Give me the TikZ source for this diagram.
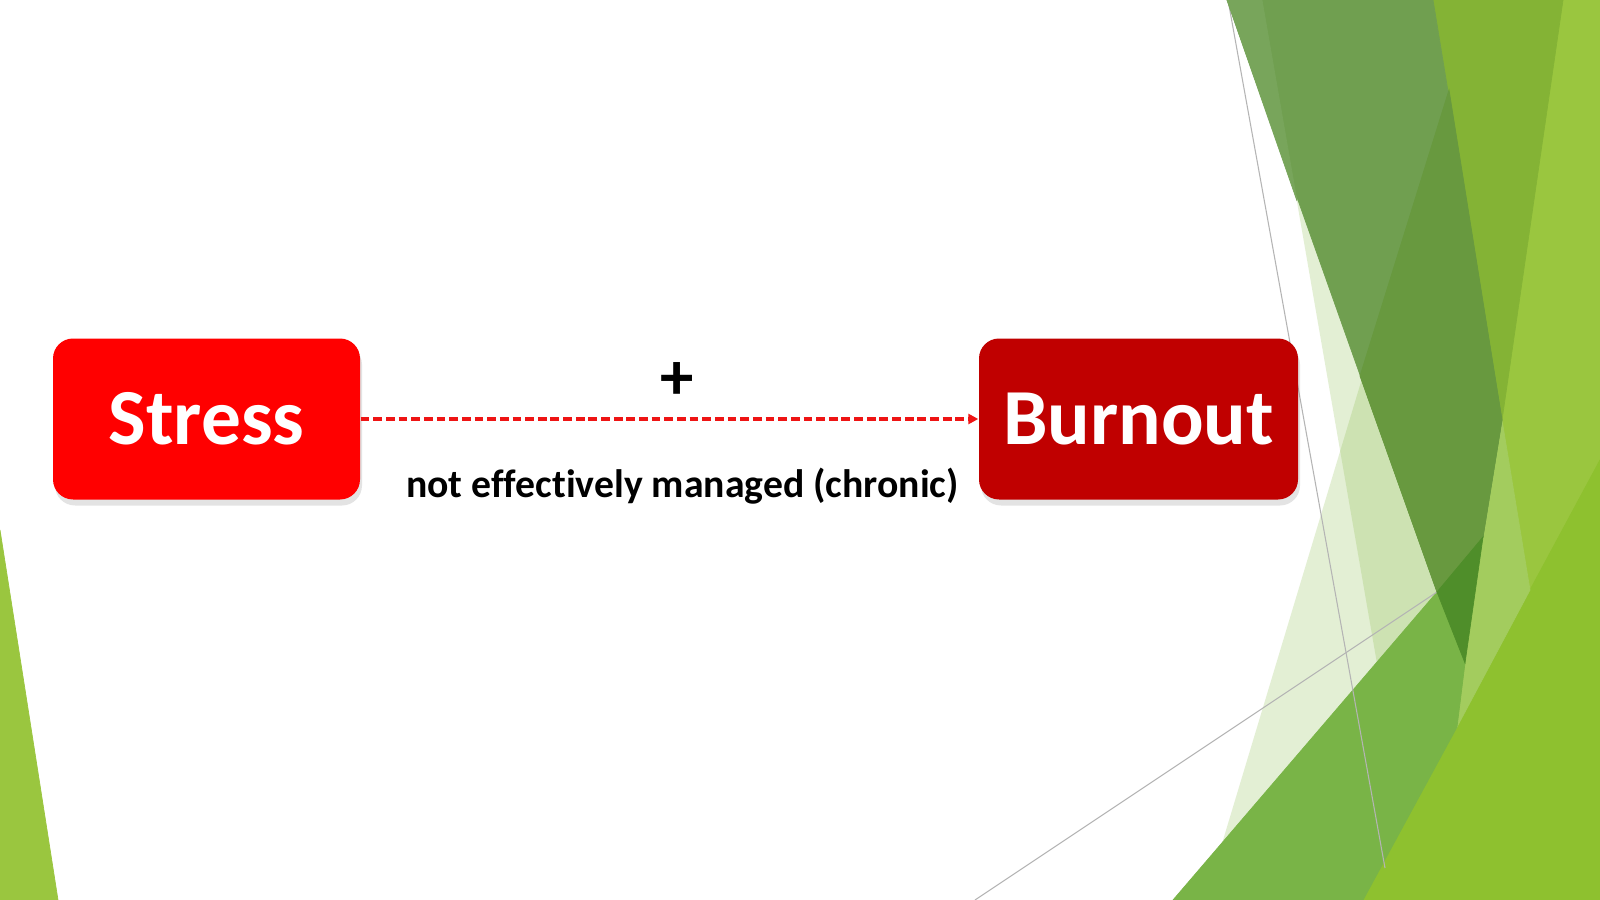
\documentclass[tikz,border=0pt]{standalone}
\usepackage{fontspec}
\setmainfont{Carlito}[Ligatures=NoCommon]
\usetikzlibrary{positioning,arrows.meta,shadows}
\definecolor{stressred}{HTML}{FF0000}
\definecolor{burnred}{HTML}{C00000}
\definecolor{arrowred}{HTML}{EE1414}
\definecolor{paleg}{HTML}{7CB436}
\definecolor{darkg}{HTML}{709F50}
\definecolor{darkgl}{HTML}{78A55B}
\definecolor{darkgd}{HTML}{68993F}
\definecolor{deepg}{HTML}{4F8E2A}
\definecolor{midg}{HTML}{79B447}
\definecolor{yg}{HTML}{84B335}
\definecolor{lyg}{HTML}{9AC63F}
\definecolor{ygb}{HTML}{8EC12F}
\definecolor{bandg}{HTML}{A3CC5E}
\definecolor{rulegray}{HTML}{B4B4B4}

\begin{document}
\begin{tikzpicture}[x=0.1mm,y=-0.1mm,
   box/.style={rounded corners=2mm, minimum height=16.1mm, text=white,
      font=\bfseries\fontsize{22.6}{26}\selectfont,
      drop shadow={shadow xshift=0.2mm,shadow yshift=-0.6mm,opacity=0.22}},
   facet/.style={fill=#1, draw=#1, line width=0.2pt},
   guide/.style={draw=rulegray, line width=0.3pt}]
   \fill[white] (0,0) rectangle (1600,900);
   \useasboundingbox (0,0) rectangle (1600,900);

   % background facets
   \fill[paleg, opacity=0.21] (1262,0) -- (1600,0) -- (1600,900) -- (1418,900) -- cycle;
   \fill[paleg, opacity=0.21] (1476,0) -- (1600,0) -- (1600,900) -- (1205,900) -- cycle;
   \path[facet=lyg] (1563,0) -- (1600,0) -- (1600,900) -- (1363,900) -- (1457,727)
      -- (1465,663) -- (1483,537) -- (1502,420) -- cycle;
   \path[facet=ygb] (1600,460) -- (1600,900) -- (1363,900) -- cycle;
   \path[facet=bandg] (1502,420) -- (1530,590) -- (1457,727) -- (1465,663) -- (1483,537) -- cycle;
   \path[facet=yg] (1433,0) -- (1563,0) -- (1502,420) -- cycle;
   \path[facet=midg] (1437,592) -- (1465,663) -- (1457,727) -- (1363,900) -- (1173,900) -- cycle;
   \coordinate (g1a) at (1228,0);
   \coordinate (g1b) at (1385,868);
   \coordinate (g2a) at (975,900);
   \coordinate (g2b) at (1437,592);
   \draw[guide] (g1a) -- (g1b);
   \draw[guide] (g2a) -- (g2b);
   \path[facet=darkg] (1227,0) -- (1433,0) -- (1502,420) -- (1483,537) -- (1437,592) -- cycle;
   \path[facet=darkgl] (1227,0) -- (1262,0) -- (1297,201) -- cycle;
   \path[facet=darkgd] (1449,90) -- (1502,420) -- (1483,537) -- (1437,592) -- (1360,376) -- cycle;
   \path[facet=deepg] (1437,592) -- (1483,537) -- (1465,663) -- cycle;
   \path[facet=lyg] (0,530) -- (58,900) -- (0,900) -- cycle;

   % boxes
   \node[box, fill=stressred, minimum width=30.7mm] (stress) at (206.5,419) {Stress};
   \node[box, fill=burnred, minimum width=31.9mm] (burnout) at (1138.5,419) {Burnout};

   \draw[arrowred, line width=1pt, dash pattern=on 2.5pt off 1.1pt,
         -{Triangle[length=2.8pt,width=2.8pt]}]
      (stress.east) -- (burnout.west)
      node[midway, xshift=0.8mm, yshift=3.8mm, text=black,
           font=\bfseries\fontsize{19}{23}\selectfont] (plus) {+}
      node[midway, xshift=1.3mm, yshift=-6.7mm, text=black,
           font=\bfseries\fontsize{11.3}{13}\selectfont] (cause) {not effectively managed (chronic)};
\end{tikzpicture}
\end{document}
